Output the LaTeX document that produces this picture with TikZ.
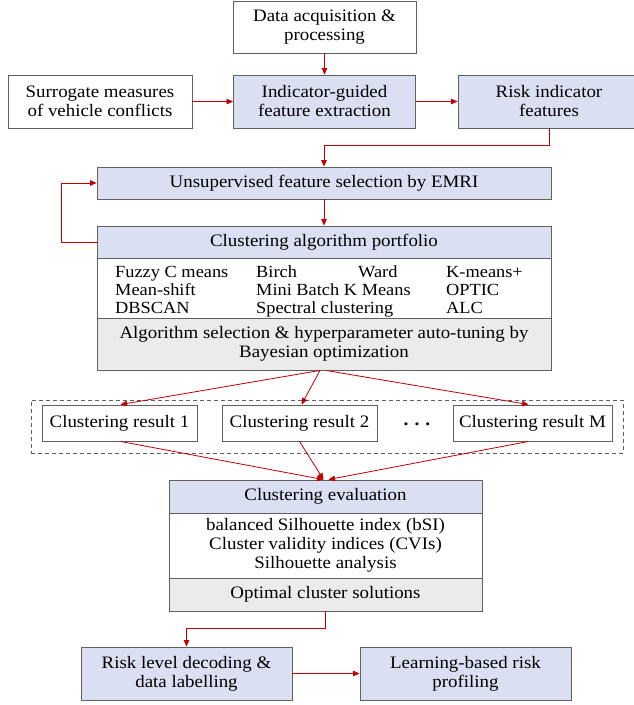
\documentclass[tikz,border=0pt]{standalone}
\usepackage{fontspec}
\setmainfont{Liberation Serif}[FakeStretch=1.08]
\usetikzlibrary{arrows.meta}
\definecolor{bluefill}{HTML}{DAE0F2}
\definecolor{greyfill}{HTML}{EBEBEB}
\definecolor{edge}{HTML}{606060}
\definecolor{arrred}{HTML}{C00000}
\tikzset{
  base/.style={draw=edge, line width=0.9pt, align=center, inner sep=0pt,
    font=\fontsize{17.5}{19}\selectfont},
  wbox/.style={base, fill=white},
  bbox/.style={base, fill=bluefill},
  gbox/.style={base, fill=greyfill},
  arr/.style={draw=arrred, line width=0.8pt, -{Triangle[length=6.5pt,width=5.5pt]}},
  dashbox/.style={draw=edge, line width=0.8pt, dash pattern=on 4pt off 3pt},
  item/.style={anchor=base west, inner sep=0pt, font=\fontsize{17}{19}\selectfont}
}
\begin{document}
\begin{tikzpicture}[x=1pt,y=-1pt]
\useasboundingbox (0,0) rectangle (634,705);
% top row
\node[wbox, minimum width=183pt, minimum height=52pt] (data) at (324.5,27) {Data acquisition \&\\processing};
\node[wbox, minimum width=184pt, minimum height=53pt] (surr) at (100,101.5) {Surrogate measures\\of vehicle conflicts};
\node[bbox, minimum width=182pt, minimum height=53pt] (ind) at (324.5,101.5) {Indicator-guided\\feature extraction};
\node[bbox, minimum width=182pt, minimum height=53pt] (risk) at (549,101.5) {Risk indicator\\features};
% EMRI
\node[bbox, minimum width=454pt, minimum height=32pt] (unsup) at (324,183) {Unsupervised feature selection by EMRI};
% portfolio
\node[bbox, minimum width=454pt, minimum height=32pt] (pfhead) at (324,242) {Clustering algorithm portfolio};
\node[wbox, minimum width=454pt, minimum height=60pt] (pflist) at (324,288) {};
\node[gbox, minimum width=454pt, minimum height=52pt] (pfgrey) at (324,344) {Algorithm selection \& hyperparameter auto-tuning by\\Bayesian optimization};
\node[item] (i11) at (115,277) {Fuzzy C means};
\node[item] (i21) at (115,295) {Mean-shift};
\node[item] (i31) at (115,313) {DBSCAN};
\node[item] (i12) at (256,277) {Birch};
\node[item] (i22) at (256,295) {Mini Batch K Means};
\node[item] (i32) at (256,313) {Spectral clustering};
\node[item] (i13) at (358,277) {Ward};
\node[item] (i14) at (446,277) {K-means+};
\node[item] (i24) at (446,295) {OPTIC};
\node[item] (i34) at (446,313) {ALC};
% results
\node[dashbox, minimum width=592pt, minimum height=53pt, inner sep=0pt] (dash) at (327,426.5) {};
\node[wbox, minimum width=155pt, minimum height=36pt] (r1) at (119.5,423) {Clustering result 1};
\node[wbox, minimum width=155pt, minimum height=36pt] (r2) at (299.5,423) {Clustering result 2};
\node[wbox, minimum width=159pt, minimum height=36pt] (rM) at (532.5,423) {Clustering result M};
\node[inner sep=0pt, font=\fontsize{18}{19}\selectfont\bfseries] (dots) at (417,424) {.\hspace{6pt}.\hspace{6pt}.};
% evaluation
\node[bbox, minimum width=313pt, minimum height=33pt] (evhead) at (325.5,496.5) {Clustering evaluation};
\node[wbox, minimum width=313pt, minimum height=65pt] (evlist) at (325.5,545.5) {balanced Silhouette index (bSI)\\Cluster validity indices (CVIs)\\Silhouette analysis};
\node[gbox, minimum width=313pt, minimum height=33pt] (evgrey) at (325.5,594.5) {Optimal cluster solutions};
% bottom
\node[bbox, minimum width=211pt, minimum height=53pt] (risklv) at (186.5,673.5) {Risk level decoding \&\\data labelling};
\node[bbox, minimum width=211pt, minimum height=53pt] (learn) at (465.5,673.5) {Learning-based risk\\profiling};
% connectors
\draw[arr] (data) -- (ind);
\draw[arr] (surr) -- (ind);
\draw[arr] (ind) -- (risk);
\draw[arr] (risk.south) -- ++(0,17) -| (unsup.north);
\draw[arr] (unsup) -- (pfhead);
\draw[arr] (pfhead.west) -- ++(-35,0) |- (unsup.west);
\draw[arr] ([xshift=-4pt]pfgrey.south) -- ([xshift=1pt]r1.north);
\draw[arr] ([xshift=-4pt]pfgrey.south) -- ([xshift=2pt]r2.north);
\draw[arr] ([xshift=2pt]pfgrey.south) -- ([xshift=-4pt]rM.north);
\draw[arr] ([xshift=1pt]r1.south) -- ([xshift=-2pt]evhead.north);
\draw[arr] (r2.south) -- ([xshift=-2pt]evhead.north);
\draw[arr] ([xshift=-4pt]rM.south) -- ([xshift=3pt]evhead.north);
\draw[arr] (evgrey.south) -- ++(0,17) -| (risklv.north);
\draw[arr] (risklv) -- (learn);
\end{tikzpicture}
\end{document}
